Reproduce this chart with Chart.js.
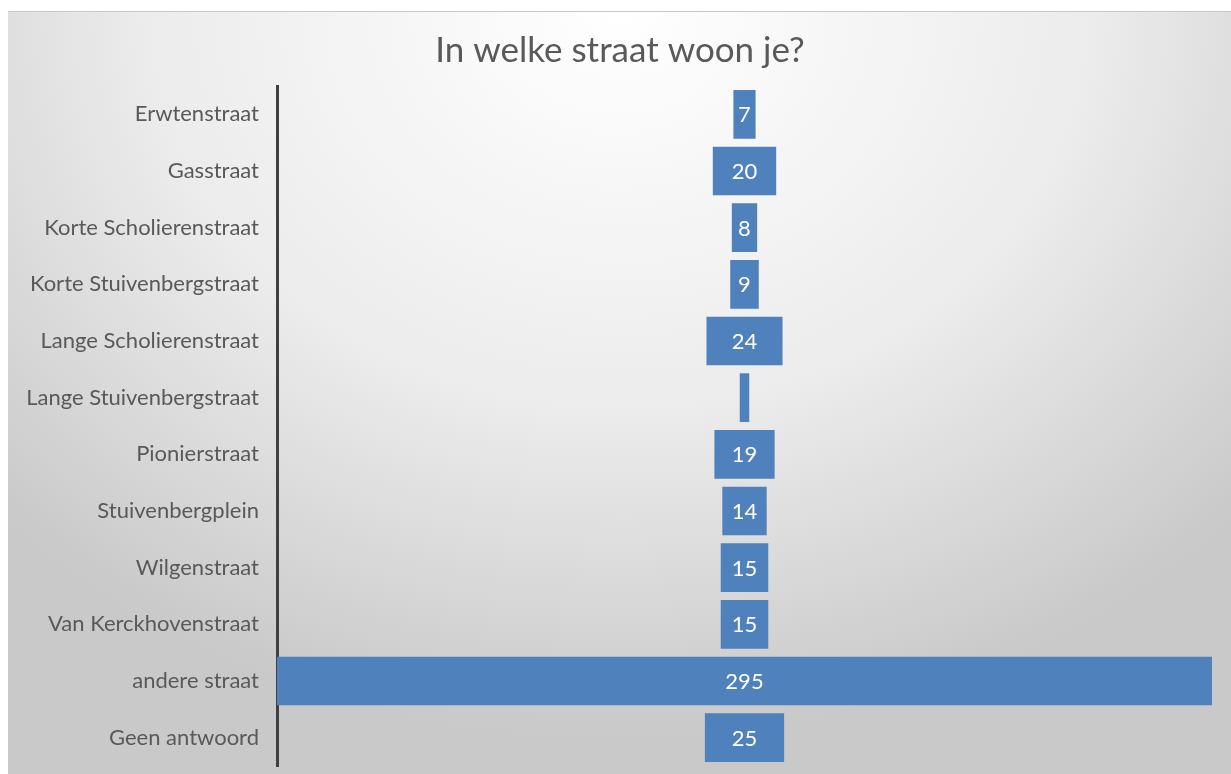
<!DOCTYPE html>
<html>
<head>
<meta charset="utf-8">
<script src="https://cdn.jsdelivr.net/npm/chart.js@4"></script>
<style>
  html, body { margin: 0; padding: 0; background: #fff; overflow: hidden; }
  #bg {
    position: absolute; left: 8px; top: 11px; width: 1223px; height: 763px;
    border-top: 1px solid #c8c8c8;
    background: radial-gradient(ellipse 70% 95% at 50% 0%, #ffffff 0%, #ececec 55%, #c9c9c9 100%);
  }
  #wrap { position: absolute; left: 0; top: 0; width: 1231px; height: 774px; }
</style>
</head>
<body>
<div id="bg"></div>
<div id="wrap"><canvas id="funnelChart"></canvas></div>
<script>
let streets = [
  'Erwtenstraat', 'Gasstraat', 'Korte Scholierenstraat', 'Korte Stuivenbergstraat',
  'Lange Scholierenstraat', 'Lange Stuivenbergstraat', 'Pionierstraat', 'Stuivenbergplein',
  'Wilgenstraat', 'Van Kerckhovenstraat', 'andere straat', 'Geen antwoord'
];
let answers = [7, 20, 8, 9, 24, 3, 19, 14, 15, 15, 295, 25];
let chartTitle = 'In welke straat woon je?';

let fontFamily = 'Lato, "Open Sans", sans-serif';
let maxValue = Math.max(...answers);

// funnel: every bar is centred around 0
let centered = answers.map(v => [-v / 2, v / 2]);

// draw the value inside each bar, skip bars that are too small
const barLabels = {
  id: 'barLabels',
  afterDatasetsDraw(chart) {
    let ctx = chart.ctx;
    let meta = chart.getDatasetMeta(0);
    ctx.save();
    ctx.font = '22px ' + fontFamily;
    ctx.fillStyle = '#ffffff';
    ctx.textAlign = 'center';
    ctx.textBaseline = 'middle';
    meta.data.forEach((bar, i) => {
      let w = Math.abs(bar.x - bar.base);
      if (w < 18) return;
      ctx.fillText(answers[i], (bar.x + bar.base) / 2, bar.y + 1);
    });
    ctx.restore();
  }
};

const ctx = document.getElementById('funnelChart').getContext('2d');
let myChart = new Chart(ctx, {
  type: 'bar',
  data: {
    labels: streets,
    datasets: [{
      data: centered,
      backgroundColor: '#4f81bd',
      borderWidth: 0,
      borderSkipped: false,
      categoryPercentage: 1,
      barPercentage: 0.86
    }]
  },
  options: {
    indexAxis: 'y',
    responsive: true,
    maintainAspectRatio: false,
    animation: false,
    layout: { padding: { left: 28, right: 19, top: 0, bottom: 8 } },
    plugins: {
      legend: { display: false },
      tooltip: { enabled: false },
      title: {
        display: true,
        text: chartTitle,
        color: '#595959',
        font: { family: fontFamily, size: 35, weight: 'normal' },
        padding: { top: 30, bottom: 14 }
      }
    },
    scales: {
      x: {
        display: false,
        min: -maxValue / 2,
        max: maxValue / 2
      },
      y: {
        grid: { display: false },
        border: { display: true, color: '#404040', width: 3 },
        ticks: {
          color: '#595959',
          font: { family: fontFamily, size: 22 },
          padding: 10
        },
        afterFit(scale) {
          scale.width = 249;
          scale.paddingTop = 0;
          scale.paddingBottom = 0;
        }
      }
    }
  },
  plugins: [barLabels]
});
</script>
</body>
</html>
